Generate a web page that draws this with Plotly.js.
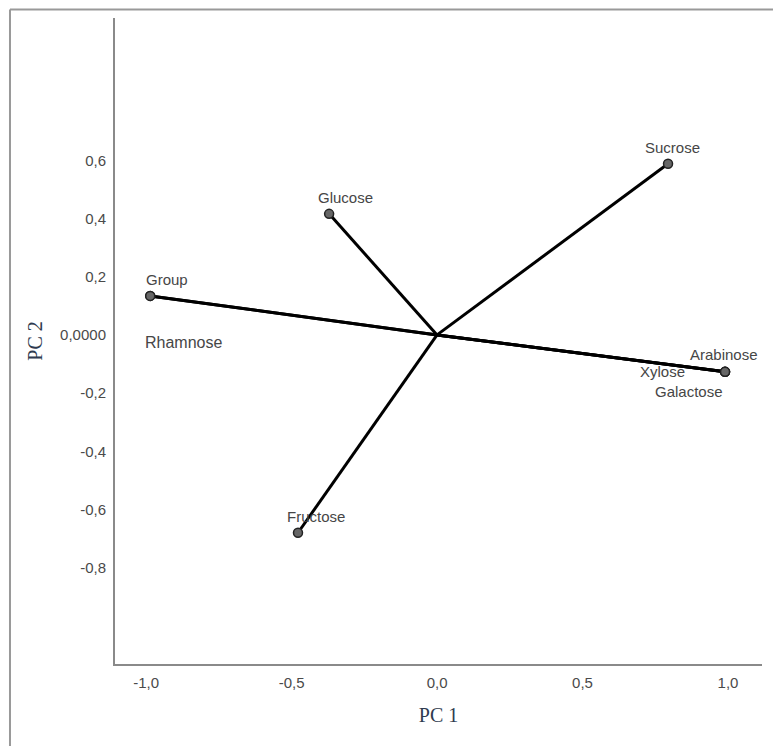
<!DOCTYPE html>
<html>
<head>
<meta charset="utf-8">
<script src="https://cdn.plot.ly/plotly-3.0.1.min.js"></script>
<style>
  html, body { margin: 0; padding: 0; background: #fff; }
  #chart { width: 773px; height: 746px; }
</style>
</head>
<body>
<div id="chart"></div>
<script>
// ---- Data (component loadings) ----
const variables = ['Sucrose', 'Glucose', 'Group', 'Rhamnose', 'Fructose', 'Arabinose', 'Xylose', 'Galactose'];
const pc1 = [0.794, -0.371, -0.986, -0.986, -0.478, 0.990, 0.990, 0.990];
const pc2 = [0.588, 0.416, 0.134, 0.134, -0.680, -0.127, -0.127, -0.127];

const xTickVals = [-1.0, -0.5, 0.0, 0.5, 1.0];
const xTickText = ['-1,0', '-0,5', '0,0', '0,5', '1,0'];
const yTickVals = [0.6, 0.4, 0.2, 0.0, -0.2, -0.4, -0.6, -0.8];
const yTickText = ['0,6', '0,4', '0,2', '0,0000', '-0,2', '-0,4', '-0,6', '-0,8'];

// label offsets (pixels) relative to each point
const labelShiftX = [4, 16, 17, 33, 18, -1, -63, -36];
const labelShiftY = [16, 16, 16, -47, 16, 17, 0, -20];
const labelSize = [15, 15, 15, 16, 15, 15, 15, 15];

// ---- Build traces ----
const lx = [], ly = [];
for (let i = 0; i < variables.length; i++) {
  lx.push(0, pc1[i], null);
  ly.push(0, pc2[i], null);
}
const lines = {
  type: 'scatter', mode: 'lines', x: lx, y: ly,
  line: { color: '#000', width: 3 }, hoverinfo: 'skip', showlegend: false
};
const pts = {
  type: 'scatter', mode: 'markers', x: pc1, y: pc2, text: variables,
  marker: { size: 9, color: '#666', line: { color: '#222', width: 1.5 } },
  showlegend: false
};

const annotations = variables.map((v, i) => ({
  x: pc1[i], y: pc2[i], xref: 'x', yref: 'y', text: v, showarrow: false,
  xshift: labelShiftX[i], yshift: labelShiftY[i],
  font: { family: 'Liberation Sans, Arial, sans-serif', size: labelSize[i], color: '#464646' }
}));

const layout = {
  width: 773, height: 746,
  margin: { l: 115, r: 11, t: 18, b: 82 },
  paper_bgcolor: '#fff', plot_bgcolor: '#fff',
  showlegend: false,
  xaxis: {
    range: [-1.107, 1.117], tickvals: xTickVals, ticktext: xTickText,
    showgrid: false, zeroline: false, showline: true, linecolor: '#8a8a8a', linewidth: 2,
    ticks: '', ticklabelstandoff: 4,
    tickfont: { family: 'Liberation Sans, Arial, sans-serif', size: 15, color: '#4a4a4a' },
    title: { text: 'PC 1', standoff: 18, font: { family: 'Liberation Serif, Times New Roman, serif', size: 20, color: '#2f3b4f' } },
    automargin: false
  },
  yaxis: {
    range: [-1.131, 1.089], tickvals: yTickVals, ticktext: yTickText,
    showgrid: false, zeroline: false, showline: true, linecolor: '#8a8a8a', linewidth: 2,
    ticks: '', ticklabelstandoff: 4,
    tickfont: { family: 'Liberation Sans, Arial, sans-serif', size: 15, color: '#4a4a4a' },
    title: { text: 'PC 2', standoff: 12, font: { family: 'Liberation Serif, Times New Roman, serif', size: 20, color: '#2f3b4f' } },
    automargin: false
  },
  shapes: [
    { type: 'line', xref: 'paper', yref: 'paper', x0: -0.1623, x1: -0.1623, y0: -0.14, y1: 1.0132, line: { color: '#999', width: 2 } },
    { type: 'line', xref: 'paper', yref: 'paper', x0: -0.1623, x1: 1.03, y0: 1.0132, y1: 1.0132, line: { color: '#999', width: 2 } }
  ],
  annotations: annotations
};

Plotly.newPlot('chart', [lines, pts], layout, { displayModeBar: false, staticPlot: true });
</script>
</body>
</html>
